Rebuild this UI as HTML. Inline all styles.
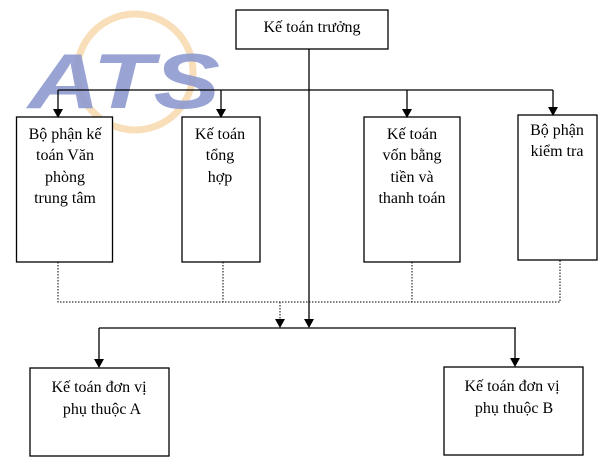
<!DOCTYPE html>
<html><head><meta charset="utf-8"><style>
body{margin:0;background:#fff;}
svg{display:block}
text{font-family:"Liberation Serif",serif;font-size:16px;fill:#000}
</style></head><body>
<svg width="608" height="472" viewBox="0 0 608 472" xmlns="http://www.w3.org/2000/svg">
<!-- logo -->
<circle cx="135" cy="72" r="58" fill="none" stroke="#f3c98a" stroke-width="7" opacity="0.6"/>
<text x="28" y="108" textLength="192" lengthAdjust="spacingAndGlyphs" style="font-family:'Liberation Sans',sans-serif;font-weight:bold;font-style:italic;font-size:78px;fill:#8e9bd0;opacity:.9">ATS</text>
<g fill="#fff" stroke="#000" stroke-width="1.3">
<rect x="236" y="10" width="152" height="39"/>
<rect x="16.5" y="117" width="96" height="145"/>
<rect x="182" y="117" width="78" height="145"/>
<rect x="364" y="117" width="96" height="145"/>
<rect x="518" y="115" width="79" height="145"/>
<rect x="30" y="368" width="139" height="88"/>
<rect x="444" y="367" width="139" height="88"/>
</g>
<g stroke="#000" stroke-width="1.3" fill="none">
<path d="M58 90H553"/>
<path d="M58 90V110"/>
<path d="M221 90V110"/>
<path d="M407 90V110"/>
<path d="M553 90V108"/>
<path d="M309 49V320"/>
<path d="M99 328H516"/>
<path d="M99 328V360"/>
<path d="M515 328V359"/>
</g>
<g fill="#000">
<path d="M53 109H63L58 118z"/>
<path d="M216 109H226L221 118z"/>
<path d="M402 109H412L407 118z"/>
<path d="M548 107H558L553 116z"/>
<path d="M304 319H314L309 328z"/>
<path d="M275 319H285L280 328z"/>
<path d="M94 359H104L99 368z"/>
<path d="M510 358H520L515 367z"/>
</g>
<g stroke="#000" stroke-width="1" stroke-dasharray="1.5,1.5" fill="none">
<path d="M58 262V302H560V260"/>
<path d="M223 262V302"/><path d="M412 262V302"/>
<path d="M280 302V320"/>
</g>
<text x="312" y="32" text-anchor="middle">Kế toán trưởng</text>
<g text-anchor="middle">
<text x="65" y="139">Bộ phận kế</text><text x="65" y="160">toán Văn</text><text x="65" y="182">phòng</text><text x="65" y="203">trung tâm</text>
<text x="220" y="139">Kế toán</text><text x="220" y="160">tổng</text><text x="220" y="182">hợp</text>
<text x="412" y="139">Kế toán</text><text x="412" y="160">vốn bằng</text><text x="412" y="182">tiền và</text><text x="412" y="203">thanh toán</text>
<text x="557" y="135">Bộ phận</text><text x="557" y="156">kiểm tra</text>
<text x="99" y="392">Kế toán đơn vị</text><text x="102" y="414">phụ thuộc A</text>
<text x="512" y="391">Kế toán đơn vị</text><text x="514" y="413">phụ thuộc B</text>
</g>
</svg>
</body></html>
